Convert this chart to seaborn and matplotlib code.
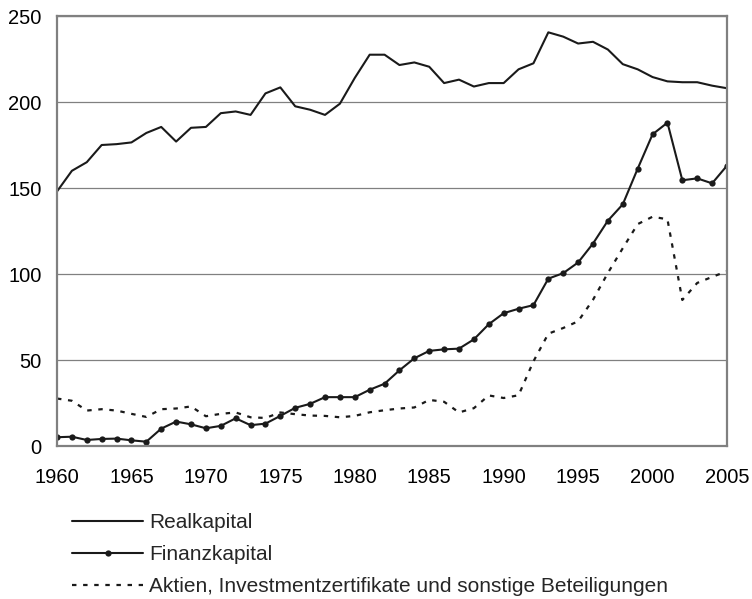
import matplotlib
matplotlib.use("Agg")
import matplotlib.pyplot as plt
import seaborn as sns
import numpy as np

years = list(range(1960, 2006))

realkapital = [148, 160, 165, 175, 175.5, 176.5, 182, 185.5, 177, 185,
               185.5, 193.5, 194.5, 192.5, 205, 208.5, 197.5, 195.5, 192.5, 199,
               214, 227.5, 227.5, 221.5, 223, 220.5, 211, 213, 209, 211,
               211, 219, 222.5, 240.5, 238, 234, 235, 230.5, 222, 219,
               214.5, 212, 211.5, 211.5, 209.5, 208]

finanzkapital = [5.1, 5.4, 3.5, 4.1, 4.3, 3.3, 2.5, 10.1, 14.2, 12.6,
                 10.3, 11.7, 16.1, 12.1, 13, 17.5, 22.2, 24.5, 28.4, 28.4,
                 28.4, 32.7, 36.2, 44, 51, 55.3, 56.2, 56.6, 62, 70.8,
                 77.2, 79.8, 81.9, 97.3, 100.5, 106.7, 117.7, 131, 140.5, 161.2,
                 181.2, 188, 154.5, 155.6, 152.7, 163]

aktien = [27.6, 26.3, 20.6, 21.4, 20.6, 18.7, 16.9, 21.4, 21.8, 23,
          17.3, 18.7, 19.5, 16.7, 16.3, 19.5, 18.5, 17.7, 17.5, 16.7,
          17.5, 19.6, 20.8, 21.8, 22.4, 26.8, 25.7, 19.5, 22, 29.4,
          27.9, 29.5, 49.2, 65.3, 68.6, 72.5, 85, 100.6, 115, 129,
          133.3, 131.8, 84.9, 94.8, 98.3, 101.6]

labels = ["Realkapital", "Finanzkapital",
          "Aktien, Investmentzertifikate und sonstige Beteiligungen"]

sns.set_style("white")
plt.rcParams['font.family'] = ['Liberation Sans', 'DejaVu Sans']

fig = plt.figure(figsize=(7.52, 5.99), dpi=100)
# axes box in pixels: left 57, right 727, top 16, bottom 446
ax = fig.add_axes([57 / 752, 1 - 446 / 599, 670 / 752, 430 / 599])

sns.lineplot(x=years, y=realkapital, ax=ax, color="#1a1a1a", linewidth=1.5,
             label=labels[0])
sns.lineplot(x=years, y=finanzkapital, ax=ax, color="#1a1a1a", linewidth=1.5,
             marker="o", markersize=4.5, markeredgewidth=0, label=labels[1])
sns.lineplot(x=years, y=aktien, ax=ax, color="#1a1a1a", linewidth=1.6,
             linestyle=(0, (2, 3)), label=labels[2])

ax.set_xlim(1960, 2005)
ax.set_ylim(0, 250)
ax.set_xticks(range(1960, 2006, 5))
ax.set_xticks(range(1960, 2006), minor=True)
ax.set_yticks(range(0, 251, 50))
ax.yaxis.grid(True, color="#808080", linewidth=0.9)
ax.set_axisbelow(True)

for s in ax.spines.values():
    s.set_color("#808080")
    s.set_linewidth(1.6)

ax.tick_params(axis="both", which="both", direction="out", color="#808080",
               width=1.2, labelsize=14.5, labelcolor="black")
ax.tick_params(axis="x", which="major", length=5, pad=11)
ax.tick_params(axis="x", which="minor", length=5)
ax.tick_params(axis="y", length=5, pad=6)

ax.get_legend().remove()
handles, lbls = ax.get_legend_handles_labels()
fig.legend(handles, lbls, loc="upper left", bbox_to_anchor=(72 / 752, 1 - 513 / 599),
           frameon=False, fontsize=15, handlelength=3.41, handletextpad=0.29,
           labelspacing=0.63, borderaxespad=0, borderpad=0)

fig.savefig("out.png", dpi=100)
